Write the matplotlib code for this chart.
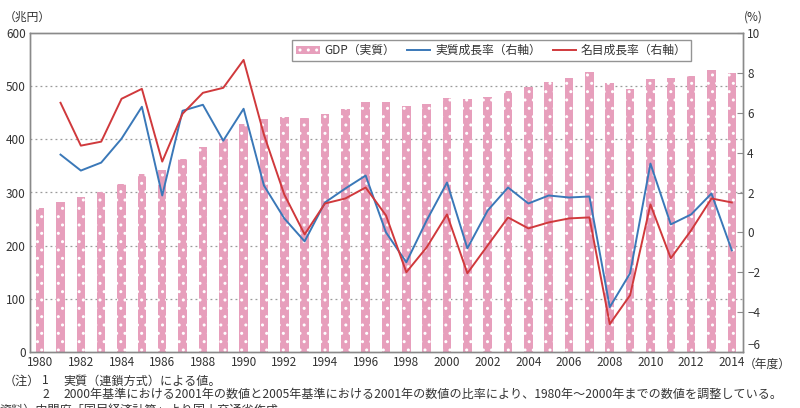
import numpy as np
import matplotlib
matplotlib.use("Agg")
import matplotlib.pyplot as plt
from matplotlib.patches import Patch
from matplotlib.lines import Line2D

plt.rcParams['font.family'] = ['Noto Sans CJK JP', 'DejaVu Sans']
plt.rcParams['hatch.linewidth'] = 1.0

years = list(range(1980, 2015))

# GDP (real), trillion yen - left axis
gdp = [271, 282, 291, 301, 316, 335, 342, 363, 386, 401, 428, 439, 442, 441, 447, 457, 470, 470,
       462, 466, 478, 475, 480, 491, 498, 507, 516, 526, 506, 495, 513, 515, 519, 530, 524]

# growth rates (%), right axis, from 1981
rate_years = list(range(1981, 2015))
real_growth = [3.9, 3.1, 3.5, 4.7, 6.3, 1.85, 6.1, 6.4, 4.6, 6.2, 2.35, 0.7, -0.45, 1.5, 2.2, 2.85,
               0.0, -1.5, 0.6, 2.5, -0.8, 1.1, 2.25, 1.45, 1.85, 1.75, 1.8, -3.75, -2.05, 3.45,
               0.4, 0.9, 1.95, -0.9]
nominal_growth = [6.5, 4.35, 4.55, 6.7, 7.2, 3.55, 5.95, 7.0, 7.25, 8.65, 4.9, 1.9, -0.1, 1.45,
                  1.7, 2.25, 0.85, -2.0, -0.75, 0.9, -2.05, -0.65, 0.75, 0.2, 0.5, 0.7, 0.75,
                  -4.6, -3.15, 1.4, -1.3, 0.1, 1.7, 1.5]

pink = '#e79fbc'
blue = '#3a78b8'
red = '#d0393c'
txt = '#333333'
spine = '#8a8a8a'

fig = plt.figure(figsize=(8, 4.08), dpi=100)
ax = fig.add_axes([30 / 800, 1 - 352 / 408, 713 / 800, 319 / 408])

ax.bar(years, gdp, width=0.42, color=pink, edgecolor='white', linewidth=0, hatch='..', zorder=2)
ax.set_ylim(0, 600)
ax.set_xlim(1979.5, 2014.55)
ax.set_yticks(range(0, 601, 100))
ax.set_xticks(range(1980, 2015, 2))
ax.set_xticks(range(1980, 2015), minor=True)
for y in range(100, 600, 100):
    ax.axhline(y, color='#9a9a9a', linestyle=(0, (1.5, 2.5)), linewidth=0.9, zorder=1)

ax2 = ax.twinx()
ax2.plot(rate_years, real_growth, color=blue, linewidth=1.4, zorder=3)
ax2.plot(rate_years, nominal_growth, color=red, linewidth=1.4, zorder=3)
ax2.set_ylim(-6, 10)
ax2.set_yticks(range(-6, 11, 2))
ax2.set_yticklabels([str(v).replace('-', '−') for v in range(-6, 11, 2)])

for a in (ax, ax2):
    for s in a.spines.values():
        s.set_color(spine)
        s.set_linewidth(1.0)

ax.tick_params(axis='y', length=0, labelsize=8.5, labelcolor=txt, pad=3)
ax.tick_params(axis='x', which='both', direction='in', length=3, color=spine,
               labelsize=8.5, labelcolor=txt, pad=3)
ax2.tick_params(axis='y', direction='in', length=4, color=spine, labelsize=8.5,
                labelcolor=txt, pad=3)
ax2.get_yticklabels()[0].set_va('bottom')

handles = [Patch(facecolor=pink, edgecolor='white', linewidth=0, hatch='..'),
           Line2D([], [], color=blue, linewidth=1.4),
           Line2D([], [], color=red, linewidth=1.4)]
labels = ['GDP（実質）', '実質成長率（右軸）', '名目成長率（右軸）']
leg = ax2.legend(handles, labels, ncol=3, loc='upper right', bbox_to_anchor=(0.927, 0.978),
                 borderaxespad=0, frameon=True, fancybox=False, fontsize=8.5,
                 handlelength=2.0, columnspacing=1.0, handletextpad=0.4, borderpad=0.35)
leg.get_frame().set_edgecolor('#7a7a7a')
leg.get_frame().set_linewidth(1.0)
for t in leg.get_texts():
    t.set_color(txt)

fig.text(4 / 800, 1 - 17 / 408, '（兆円）', fontsize=8.5, color=txt, va='center', ha='left')
fig.text(744 / 800, 1 - 17 / 408, '(%)', fontsize=8.5, color=txt, va='center', ha='left')
fig.text(744 / 800, 1 - 364 / 408, '（年度）', fontsize=8.5, color=txt, va='center', ha='left')

fs = 8.7
fig.text(4 / 800, 1 - 381 / 408, '（注）', fontsize=fs, color=txt, va='center', ha='left')
fig.text(42 / 800, 1 - 381 / 408, '1', fontsize=fs, color=txt, va='center', ha='left')
fig.text(63 / 800, 1 - 381 / 408, '実質（連鎖方式）による値。', fontsize=fs, color=txt,
         va='center', ha='left')
fig.text(42 / 800, 1 - 394 / 408, '2', fontsize=fs, color=txt, va='center', ha='left')
fig.text(63 / 800, 1 - 394 / 408,
         '2000年基準における2001年の数値と2005年基準における2001年の数値の比率により、1980年～2000年までの数値を調整している。',
         fontsize=fs, color=txt, va='center', ha='left')
fig.text(0 / 800, 1 - 410 / 408, '資料）内閣府「国民経済計算」より国土交通省作成', fontsize=fs,
         color=txt, va='center', ha='left')

fig.savefig('out.png', dpi=100)
